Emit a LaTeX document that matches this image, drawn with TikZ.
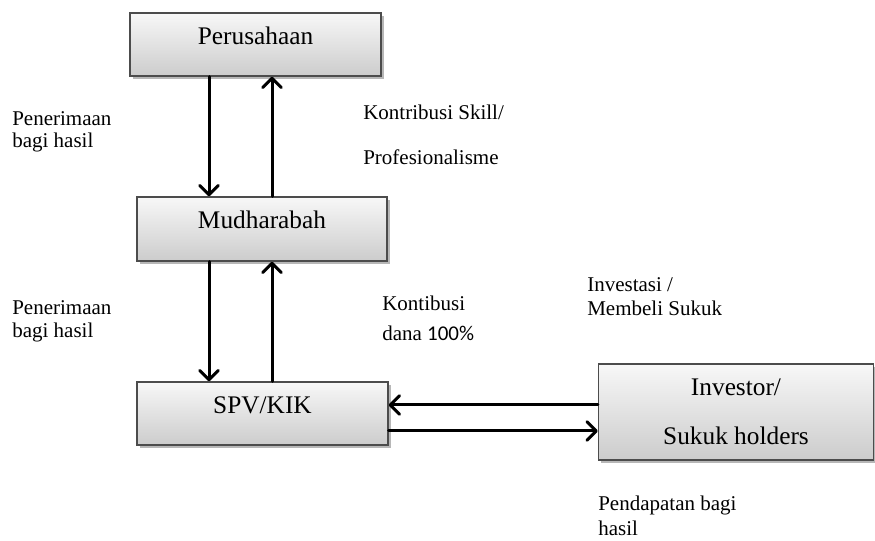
\documentclass[tikz,border=0pt]{standalone}
\usepackage{fontspec}
\setmainfont{Liberation Serif}
\newfontfamily\calibrifont{Carlito}
\usetikzlibrary{arrows.meta,shadows}
\begin{document}
\begin{tikzpicture}[x=0.75pt,y=-0.75pt,
  boxnode/.style={draw=black!70, line width=1pt, rectangle,
    top color=gray!6, bottom color=gray!40,
    drop shadow={shadow xshift=2pt, shadow yshift=-2.5pt, opacity=0.4, fill=black!70},
    font=\fontsize{19}{23}\selectfont, inner sep=0pt, align=center},
  onebox/.style={boxnode, text height=10pt, text depth=10pt},
  lbl/.style={anchor=base west, inner sep=0pt, font=\fontsize{15.75}{19}\selectfont},
  arr/.style={line width=2.25pt, line cap=round, -{Straight Barb[length=7pt,width=14pt,round]}}]
\useasboundingbox (0,0) rectangle (875,541);

\node[onebox, minimum width=251*0.75pt, minimum height=63*0.75pt] (per) at (255.5,44.5) {Perusahaan};
\node[onebox, minimum width=250*0.75pt, minimum height=64*0.75pt] (mud) at (262,229) {Mudharabah};
\node[onebox, minimum width=251*0.75pt, minimum height=63*0.75pt] (spv) at (262.5,413.5) {SPV/KIK};
\node[boxnode, minimum width=275*0.75pt, minimum height=96*0.75pt] (inv) at (736,412) {Investor/\\[13.5pt]Sukuk holders};

\coordinate (xl) at (209,0);
\coordinate (xr) at (272,0);
\coordinate (yu) at (0,405);
\coordinate (yd) at (0,431);

\draw[arr] (per.south -| xl) -- (mud.north -| xl);
\draw[arr] (mud.north -| xr) -- (per.south -| xr);
\draw[arr] (mud.south -| xl) -- (spv.north -| xl);
\draw[arr] (spv.north -| xr) -- (mud.south -| xr);
\draw[arr] (inv.west |- yu) -- (spv.east |- yu);
\draw[arr] (spv.east |- yd) -- (inv.west |- yd);

\node[lbl] (p1a) at (12,126) {Penerimaan};
\node[lbl] (p1b) at (12,148) {bagi hasil};
\node[lbl] (k1a) at (363,120) {Kontribusi Skill/};
\node[lbl] (k1b) at (363,165) {Profesionalisme};
\node[lbl] (p2a) at (12,315) {Penerimaan};
\node[lbl] (p2b) at (12,338) {bagi hasil};
\node[lbl] (k2a) at (382,311) {Kontibusi};
\node[lbl] (k2b) at (382,341) {dana {\calibrifont 100\%}};
\node[lbl] (i1a) at (587,292) {Investasi /};
\node[lbl] (i1b) at (587,316) {Membeli Sukuk};
\node[lbl] (d1a) at (598,511) {Pendapatan bagi};
\node[lbl] (d1b) at (598,535) {hasil};
\end{tikzpicture}
\end{document}
